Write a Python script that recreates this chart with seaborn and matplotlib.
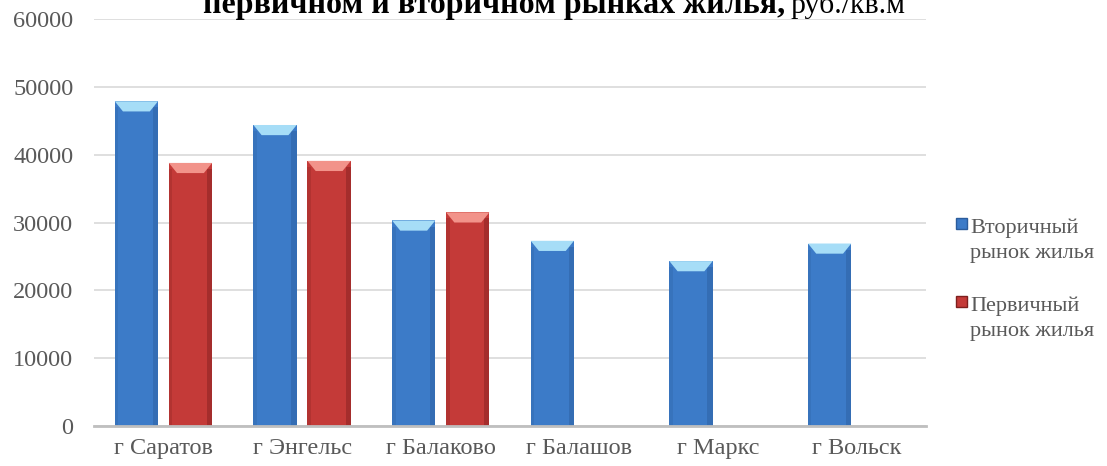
import numpy as np
import pandas as pd
import matplotlib
matplotlib.use("Agg")
import matplotlib.pyplot as plt
import seaborn as sns
from matplotlib.patches import Polygon, Rectangle
from matplotlib.legend_handler import HandlerPatch

# === Data ===
cities = ["г Саратов", "г Энгельс", "г Балаково", "г Балашов", "г Маркс", "г Вольск"]
secondary = [47900, 44400, 30300, 27300, 24300, 26900]
primary = [38800, 39100, 31500, None, None, None]
series_names = ["Вторичный\nрынок жилья", "Первичный\nрынок жилья"]
y_ticks = [0, 10000, 20000, 30000, 40000, 50000, 60000]

rows = []
for city, s, p in zip(cities, secondary, primary):
    rows.append({"city": city, "price": s, "market": series_names[0]})
    if p is not None:
        rows.append({"city": city, "price": p, "market": series_names[1]})
df = pd.DataFrame(rows)

# === Style ===
sns.set_style("white")
plt.rcParams["font.family"] = ["Liberation Serif", "DejaVu Serif"]
face = {series_names[0]: "#3C7BC8", series_names[1]: "#C43A38"}
light = {series_names[0]: "#A6DDF7", series_names[1]: "#F2938A"}
dark = {series_names[0]: "#2B5C9C", series_names[1]: "#7E1F1E"}
text_gray = "#595959"

fig = plt.figure(figsize=(11.07, 4.66), dpi=100)
ax = fig.add_axes([0.085, 0.0865, 0.7515, 0.872])

sns.barplot(data=df, x="city", y="price", hue="market", hue_order=series_names,
            order=cities, palette=face, width=0.78, gap=0.2, legend=False,
            saturation=1, ax=ax, linewidth=0)

ax.set_ylim(0, 60000)
ax.set_yticks(y_ticks)
ax.set_yticklabels([str(t) for t in y_ticks])
ax.yaxis.grid(True, color="#D9D9D9", linewidth=1.2)
ax.set_axisbelow(True)
for side in ["left", "right", "top"]:
    ax.spines[side].set_visible(False)
ax.spines["bottom"].set_color("#BFBFBF")
ax.spines["bottom"].set_linewidth(2)
ax.tick_params(axis="both", length=0, labelsize=17.5, labelcolor=text_gray)
ax.tick_params(axis="x", pad=9)
ax.tick_params(axis="y", pad=15)
ax.set_xlabel("")
ax.set_ylabel("")

# bevel decoration derived from each bar patch
bars = [p for p in ax.patches if isinstance(p, Rectangle) and p.get_height() > 0]
for bar in bars:
    col = matplotlib.colors.to_hex(bar.get_facecolor())
    key = series_names[0] if col.lower() == face[series_names[0]].lower() else series_names[1]
    x0, w, h = bar.get_x(), bar.get_width(), bar.get_height()
    inset = w * 0.19
    bev = 1500
    ax.add_patch(Polygon([[x0, h], [x0 + w, h], [x0 + w - inset, h - bev], [x0 + inset, h - bev]],
                         closed=True, facecolor=light[key], edgecolor="none", zorder=3))
    ax.add_patch(Rectangle((x0 + w - w * 0.12, 0), w * 0.12, h - bev * 0.6,
                           facecolor=dark[key], alpha=0.45, edgecolor="none", zorder=2.5))
    ax.add_patch(Rectangle((x0, 0), w * 0.08, h - bev * 0.6,
                           facecolor=dark[key], alpha=0.25, edgecolor="none", zorder=2.5))


# legend: square aligned with the first line of each two-line label
def first_line_square(legend, orig_handle, xdescent, ydescent, width, height, fontsize):
    return Rectangle((-xdescent, -ydescent + 0.72 * fontsize), width, height)


handles = [Rectangle((0, 0), 1, 1, facecolor=face[n], edgecolor=dark[n]) for n in series_names]
leg = fig.legend(handles, series_names, loc="upper left", bbox_to_anchor=(0.8636, 0.532),
                 frameon=False, fontsize=16, handlelength=0.5, handleheight=0.42,
                 handletextpad=0.15, labelspacing=1.5, borderpad=0, borderaxespad=0,
                 handler_map={Rectangle: HandlerPatch(patch_func=first_line_square)})
for t in leg.get_texts():
    t.set_color(text_gray)
    t.set_linespacing(1.45)

# title (last line visible, top clipped as in the source)
fig.text(0.709, 0.972, "первичном и вторичном рынках жилья,", ha="right", va="baseline",
         fontsize=23, fontweight="bold", color="black")
fig.text(0.714, 0.972, "руб./кв.м", ha="left", va="baseline", fontsize=21.5, color="black")

fig.savefig("out.png", dpi=100)
